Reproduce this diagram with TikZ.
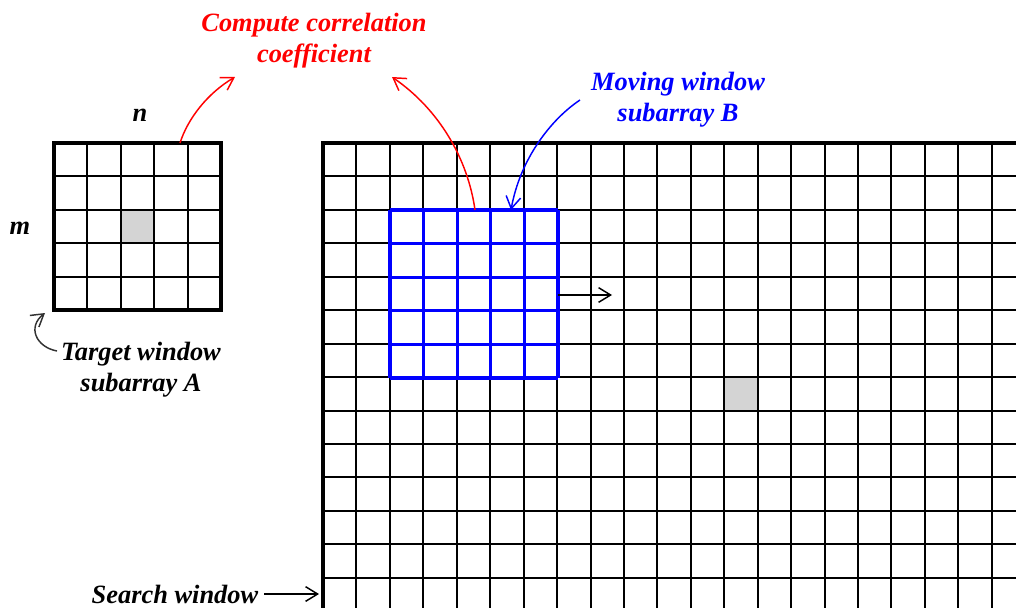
\documentclass[tikz,border=0pt]{standalone}
\usepackage{fontspec}
\setmainfont{Liberation Serif}
\usetikzlibrary{arrows.meta}
\begin{document}
\begin{tikzpicture}[x=0.75pt,y=-0.75pt,
  lbl/.style={font=\fontsize{19.8}{23.3}\selectfont\bfseries\itshape, align=center, inner sep=0pt},
  gridline/.style={line width=1.5pt, black},
  border/.style={line width=2.3pt, black},
  bluegrid/.style={line width=2.3pt, blue},
  shade/.style={fill=black!17},
  arr/.style={-{Straight Barb[length=9pt,width=11pt,line width=1.1pt]}, line width=1.1pt}
]
\useasboundingbox (0,0) rectangle (1016,607);
\fill[white] (0,0) rectangle (1016,607);
% ---- big search grid ----
\begin{scope}
\clip (0,0) rectangle (1016,607);
\fill[shade] ({323+12*33.44},{143+7*33.44}) rectangle ++(33.44,33.44);
\foreach \i in {1,...,20} \draw[gridline] ({323+\i*33.44},143) -- ({323+\i*33.44},620);
\foreach \j in {1,...,13} \draw[gridline] (323,{143+\j*33.44}) -- (1030,{143+\j*33.44});
\draw[border] (323,620) -- (323,143) -- (1030,143);
\end{scope}
% ---- moving window B ----
\foreach \i in {0,...,5} \draw[bluegrid] ({390+\i*33.6},210) -- ({390+\i*33.6},378);
\foreach \j in {0,...,5} \draw[bluegrid] (390,{210+\j*33.6}) -- (558,{210+\j*33.6});
% ---- target window A ----
\fill[shade] ({54+2*33.4},{143+2*33.4}) rectangle ++(33.4,33.4);
\foreach \i in {1,...,4} \draw[gridline] ({54+\i*33.4},143) -- ({54+\i*33.4},310);
\foreach \j in {1,...,4} \draw[gridline] (54,{143+\j*33.4}) -- (221,{143+\j*33.4});
\draw[border] (54,143) rectangle (221,310);
% ---- labels ----
\node[lbl] (n) at (140,115) {n};
\node[lbl] (m) at (20,228) {m};
\node[lbl] (ta) at (141,370) {Target window\\subarray A};
\node[lbl, red] (cc) at (314,41) {Compute correlation\\coefficient};
\node[lbl, blue] (mb) at (678,100) {Moving window\\subarray B};
\node[lbl] (sw) at (175,594) {Search window};
% ---- connector anchors ----
\coordinate (aTop) at (180,143);
\coordinate (ccL) at (235,77);
\coordinate (bTop) at (475,210);
\coordinate (ccR) at (392,77);
\coordinate (mbS) at (580,100);
\coordinate (bHit) at (511,210);
\coordinate (bRight) at (558,295);
\coordinate (bMove) at (612,295);
\coordinate (taS) at (57,351);
\coordinate (taE) at (45,313);
\coordinate (swS) at (264,594);
\coordinate (swE) at (319,594);
% ---- connectors ----
\draw[arr, red] (aTop) .. controls (188,118) and (208,93) .. (ccL);
\draw[arr, red] (bTop) .. controls (468,160) and (440,110) .. (ccR);
\draw[arr, blue] (mbS) .. controls (550,120) and (520,160) .. (bHit);
\draw[arr] (bRight) -- (bMove);
\draw[arr, black!80] (taS) .. controls (36,347) and (27,327) .. (taE);
\draw[arr] (swS) -- (swE);
\end{tikzpicture}
\end{document}
